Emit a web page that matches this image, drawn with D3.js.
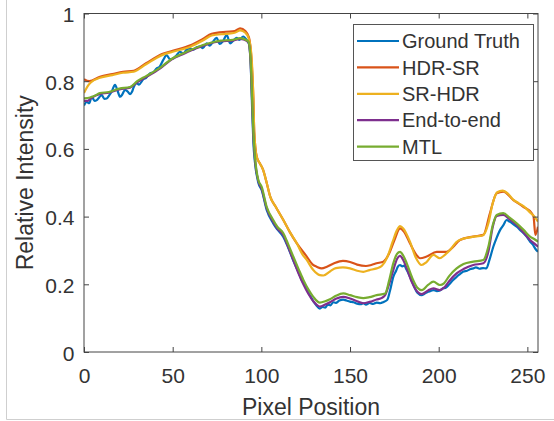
<!DOCTYPE html>
<html><head><meta charset="utf-8">
<script src="https://cdn.jsdelivr.net/npm/d3@7"></script>
<style>
html,body{margin:0;padding:0;background:#fff;}
svg{display:block;font-family:"Liberation Sans",Arial,sans-serif;}
</style></head>
<body><svg id="c" width="554" height="421"></svg>
<script>
const xTicks = [0, 50, 100, 150, 200, 250];
const yTicks = [0, 0.2, 0.4, 0.6, 0.8, 1];
const yTickLabels = ["0", "0.2", "0.4", "0.6", "0.8", "1"];
const seriesNames = ["Ground Truth", "HDR-SR", "SR-HDR", "End-to-end", "MTL"];
const seriesColors = ["#0072BD", "#D95319", "#EDB120", "#7E2F8E", "#77AC30"];

const groundTruth = [[0,0.728],[1.5,0.739],[3,0.735],[4.3,0.754],[6,0.742],[7.2,0.744],[8.5,0.752],[10,0.759],[11.5,0.748],[12.8,0.749],[14.2,0.758],[15.6,0.769],[17.5,0.789],[18.8,0.774],[20.3,0.754],[21.5,0.76],[23.1,0.774],[24.5,0.77],[26,0.762],[27,0.768],[28,0.782],[29.7,0.794],[31,0.79],[33.5,0.806],[35,0.81],[37.2,0.823],[39,0.826],[41,0.838],[42.5,0.842],[44.7,0.863],[46.6,0.877],[48.5,0.865],[50.5,0.868],[52.3,0.877],[54.1,0.887],[56,0.882],[57.8,0.893],[59.8,0.897],[61.5,0.893],[63.5,0.9],[65.4,0.902],[67,0.898],[69.2,0.912],[71,0.905],[72.5,0.915],[74.8,0.928],[76.5,0.91],[78.3,0.918],[80.5,0.936],[82.4,0.912],[84.2,0.92],[86.1,0.928],[87.5,0.922],[89.8,0.932],[91.7,0.922],[93,0.91],[94,0.85],[94.8,0.72],[95.5,0.62],[96.4,0.56],[98.3,0.5],[100.2,0.478],[103,0.42],[106.7,0.38],[109,0.362],[112.4,0.34],[115,0.31],[118,0.27],[121,0.235],[123,0.21],[124.5,0.2],[126.5,0.175],[128,0.162],[129.3,0.15],[131,0.138],[133,0.128],[134.5,0.133],[136,0.131],[137.5,0.14],[139,0.138],[140.5,0.147],[142,0.145],[144,0.152],[146.2,0.155],[148,0.152],[150,0.149],[152,0.147],[154,0.143],[156,0.141],[157.5,0.144],[159,0.14],[161,0.145],[163,0.142],[165,0.146],[167,0.144],[169,0.148],[171,0.154],[172.5,0.18],[174.4,0.222],[176,0.24],[177,0.252],[178.2,0.257],[179.5,0.253],[180.5,0.255],[182,0.242],[184,0.22],[186,0.195],[188,0.175],[190.4,0.168],[192,0.172],[194,0.178],[195.5,0.18],[197,0.183],[199,0.18],[200.7,0.182],[202.5,0.188],[204,0.19],[206,0.2],[208,0.212],[210.1,0.222],[212,0.23],[214,0.238],[216,0.24],[218,0.245],[219.5,0.247],[221,0.25],[223,0.246],[225,0.248],[226.9,0.247],[228.5,0.27],[230.8,0.311],[232.5,0.335],[234.6,0.36],[236.5,0.375],[238.3,0.39],[240,0.385],[242,0.378],[244,0.37],[246,0.36],[248,0.35],[250,0.338],[251.5,0.326],[253,0.318],[254.5,0.305],[256,0.296]];

const hdrSr = [[0,0.806],[3,0.8],[9,0.813],[16,0.821],[22,0.828],[28,0.831],[35,0.853],[44,0.88],[50,0.89],[60,0.906],[67,0.925],[72,0.94],[80,0.946],[85,0.948],[88,0.956],[91,0.948],[93,0.93],[94.5,0.86],[95.5,0.75],[96,0.65],[97.4,0.577],[99.2,0.557],[101,0.538],[103,0.5],[105,0.459],[108,0.43],[112.4,0.39],[116,0.355],[120,0.321],[125.6,0.282],[129,0.258],[131.2,0.252],[134,0.247],[137,0.252],[141,0.262],[146,0.269],[150,0.266],[154,0.258],[159,0.254],[162,0.257],[165,0.262],[168.8,0.267],[172.5,0.296],[175,0.33],[178.2,0.365],[180.5,0.355],[183.8,0.321],[187,0.29],[189.5,0.277],[193.2,0.282],[198.9,0.296],[204.5,0.296],[208,0.31],[212,0.331],[219.5,0.341],[225.2,0.346],[228.9,0.41],[232.7,0.469],[236.4,0.474],[242.1,0.449],[247.7,0.429],[252.4,0.41],[253.5,0.4],[254.5,0.346],[256,0.37]];

const srHdr = [[0,0.765],[2,0.785],[4,0.797],[9,0.81],[16,0.818],[22,0.825],[28,0.828],[35,0.85],[44,0.877],[50,0.887],[60,0.902],[67,0.92],[72,0.935],[80,0.94],[85,0.943],[88,0.95],[91,0.943],[93,0.925],[94.5,0.87],[95.5,0.75],[96,0.65],[97.4,0.577],[99.2,0.557],[101,0.538],[103,0.5],[105,0.459],[108,0.43],[112.4,0.39],[116,0.355],[120,0.321],[123,0.29],[125.6,0.272],[129.3,0.242],[133,0.227],[135,0.226],[138.7,0.238],[142,0.248],[146,0.25],[150,0.247],[154,0.24],[157.5,0.237],[161,0.242],[165,0.247],[168,0.255],[171,0.28],[174,0.325],[176.5,0.36],[178.2,0.372],[180,0.365],[183.8,0.326],[187,0.28],[190.4,0.257],[193,0.265],[197,0.287],[200.7,0.277],[203,0.285],[206.4,0.301],[210,0.325],[214,0.335],[219,0.34],[225,0.345],[228,0.38],[230.5,0.44],[233,0.472],[236,0.477],[239,0.468],[242,0.45],[245,0.44],[248,0.43],[252,0.41],[254,0.4],[256,0.385]];

const endToEnd = [[0,0.742],[2,0.742],[4,0.75],[9,0.762],[14,0.766],[20,0.776],[26,0.781],[30,0.797],[35,0.812],[43,0.838],[50,0.866],[55,0.878],[60,0.89],[69,0.908],[77,0.918],[84,0.92],[88,0.925],[90,0.923],[92.7,0.915],[94,0.85],[94.8,0.74],[95.5,0.64],[96.4,0.57],[98.3,0.505],[100.2,0.482],[103,0.425],[106.7,0.385],[109,0.365],[112.4,0.345],[115,0.312],[118,0.272],[121,0.232],[123.7,0.2],[126.5,0.172],[129.3,0.15],[133,0.134],[136,0.14],[139,0.148],[142,0.157],[146.2,0.163],[150,0.158],[154,0.15],[157.5,0.144],[161,0.148],[165,0.155],[168,0.16],[170,0.17],[172,0.2],[174.4,0.242],[176.5,0.275],[178.2,0.284],[180,0.272],[182,0.247],[185,0.205],[188,0.178],[190.4,0.171],[194,0.182],[197,0.188],[200.7,0.183],[203,0.19],[206,0.21],[210.1,0.232],[214,0.245],[219.5,0.257],[225.2,0.262],[228,0.296],[230.5,0.37],[232.7,0.402],[236.4,0.405],[240,0.392],[244,0.375],[248,0.352],[251.5,0.331],[254,0.32],[256,0.311]];

const mtl = [[0,0.749],[3.4,0.752],[6,0.757],[9,0.765],[14,0.768],[20,0.778],[26,0.783],[30,0.8],[35,0.815],[43,0.84],[50,0.868],[55,0.88],[60,0.892],[69,0.91],[77,0.92],[84,0.922],[88,0.927],[90,0.925],[92.7,0.917],[94,0.86],[94.8,0.75],[95.5,0.65],[96.4,0.577],[98.3,0.508],[100.2,0.488],[103,0.429],[106.7,0.39],[109,0.37],[112.4,0.351],[115,0.32],[118,0.282],[121,0.245],[123.7,0.213],[126.5,0.185],[129.3,0.163],[133,0.146],[136,0.15],[138.7,0.156],[142,0.166],[146.2,0.173],[150,0.168],[154,0.162],[157.5,0.159],[161,0.162],[165,0.168],[169.8,0.173],[172,0.21],[174.4,0.262],[176.5,0.29],[178.2,0.296],[180,0.285],[182,0.262],[185,0.22],[188,0.19],[190.4,0.183],[194,0.198],[197,0.208],[200.7,0.198],[203,0.203],[206,0.225],[210.1,0.247],[214,0.26],[219.5,0.267],[225.2,0.272],[228,0.311],[230.5,0.375],[232.7,0.405],[236.4,0.41],[240,0.397],[244,0.38],[248,0.36],[251.5,0.341],[254,0.333],[256,0.326]];

const allSeries = [groundTruth, hdrSr, srHdr, endToEnd, mtl];

const svg = d3.select("#c");
const L = 84, R = 538, T = 13.5, B = 352;
const x = d3.scaleLinear().domain([0, 256]).range([L, R]);
const y = d3.scaleLinear().domain([0, 1]).range([B, T]);
const txt = "#333";
const axc = "#444";

// page frame
svg.append("line").attr("x1",6.5).attr("x2",6.5).attr("y1",0).attr("y2",419.5).attr("stroke","#cfcfcf");
svg.append("line").attr("x1",6.5).attr("x2",554).attr("y1",419.5).attr("y2",419.5).attr("stroke","#cfcfcf");

svg.append("defs").append("clipPath").attr("id","clip")
  .append("rect").attr("x",L).attr("y",T).attr("width",R-L).attr("height",B-T);

const line = d3.line().x(d => x(d[0])).y(d => y(d[1])).curve(d3.curveMonotoneX);
const g = svg.append("g").attr("clip-path","url(#clip)");
allSeries.forEach((s, i) => {
  g.append("path").datum(s).attr("d", line)
    .attr("fill","none").attr("stroke", seriesColors[i])
    .attr("stroke-width", 2.2).attr("stroke-linejoin","round");
});

// axes
const tl = 5;
const xAx = svg.append("g").attr("transform",`translate(0,${B})`)
  .call(d3.axisBottom(x).tickValues(xTicks).tickSize(-tl).tickPadding(12).tickFormat(d3.format("d")));
const xAxT = svg.append("g").attr("transform",`translate(0,${T})`)
  .call(d3.axisTop(x).tickValues(xTicks).tickSize(-tl).tickFormat(""));
const yAx = svg.append("g").attr("transform",`translate(${L},0)`)
  .call(d3.axisLeft(y).tickValues(yTicks).tickSize(-tl).tickPadding(9).tickFormat((d,i)=>yTickLabels[i]));
const yAxR = svg.append("g").attr("transform",`translate(${R},0)`)
  .call(d3.axisRight(y).tickValues(yTicks).tickSize(-tl).tickFormat(""));
[xAx, xAxT, yAx, yAxR].forEach(a => {
  a.select(".domain").remove();
  a.selectAll(".tick line").attr("stroke", axc);
  a.selectAll("text").attr("fill", txt).style("font-size","21px").style("font-family","Liberation Sans, Arial, sans-serif");
});
xAx.selectAll("text").attr("dy", null).attr("y", 31).attr("dominant-baseline", null);
yAx.selectAll("text").attr("dy", null).attr("y", 8).attr("x", -9.5);
svg.append("rect").attr("x",L).attr("y",T).attr("width",R-L).attr("height",B-T)
  .attr("fill","none").attr("stroke",axc).attr("stroke-width",1);

// axis labels
svg.append("text").attr("x",(L+R)/2).attr("y",415).attr("text-anchor","middle")
  .attr("fill",txt).style("font-size","23px").text("Pixel Position");
svg.append("text").attr("transform",`translate(33,${(T+B)/2}) rotate(-90)`).attr("text-anchor","middle")
  .attr("fill",txt).style("font-size","23px").text("Relative Intensity");

// legend
const lg = svg.append("g");
lg.append("rect").attr("x",353.5).attr("y",24.5).attr("width",180).attr("height",136)
  .attr("fill","#fff").attr("stroke","#555");
seriesNames.forEach((n, i) => {
  const yy = 41 + i * 26.4;
  lg.append("line").attr("x1",357).attr("x2",399).attr("y1",yy).attr("y2",yy)
    .attr("stroke",seriesColors[i]).attr("stroke-width",2.2);
  lg.append("text").attr("x",402).attr("y",yy).attr("dy","0.36em")
    .attr("fill",txt).style("font-size","20px").text(n);
});
</script></body></html>
